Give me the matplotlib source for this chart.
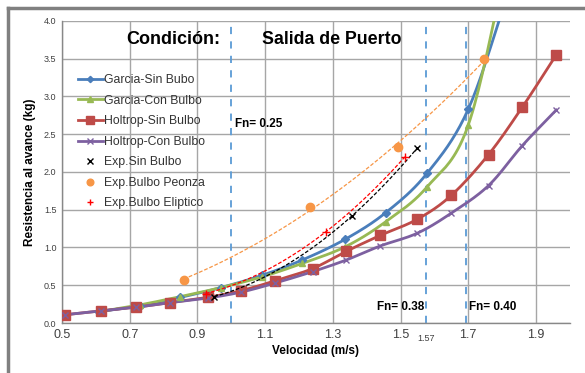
import numpy as np
import matplotlib
matplotlib.use("Agg")
import matplotlib.pyplot as plt
from matplotlib.lines import Line2D

plt.rcParams["font.family"] = ["Liberation Sans", "DejaVu Sans"]

# ==========================================
# DATA
# ==========================================

v_garcia = [0.61, 0.73, 0.85, 0.97, 1.09, 1.21, 1.337, 1.456, 1.578, 1.70, 1.82]
r_garcia_sin = [0.15, 0.23, 0.34, 0.47, 0.63, 0.835, 1.11, 1.46, 1.98, 2.83, 4.4]
r_garcia_con = [0.15, 0.24, 0.35, 0.47, 0.61, 0.79, 1.01, 1.34, 1.80, 2.62, 4.9]

v_holtrop = [0.51, 0.615, 0.72, 0.82, 0.93, 1.03, 1.13, 1.24, 1.34, 1.44,
             1.55, 1.65, 1.76, 1.86, 1.96]
r_holtrop_sin = [0.11, 0.16, 0.21, 0.27, 0.34, 0.43, 0.56, 0.72, 0.95, 1.16,
                 1.375, 1.69, 2.23, 2.86, 3.55]
r_holtrop_con = [0.11, 0.16, 0.21, 0.27, 0.33, 0.41, 0.53, 0.68, 0.835, 1.02,
                 1.19, 1.455, 1.82, 2.35, 2.82]

v_exp_sin = [0.95, 1.357, 1.55]
r_exp_sin = [0.35, 1.42, 2.32]

v_exp_peonza = [0.859, 1.232, 1.494, 1.748]
r_exp_peonza = [0.57, 1.54, 2.33, 3.50]

v_exp_eliptico = [0.924, 1.28, 1.513]
r_exp_eliptico = [0.39, 1.21, 2.20]

fn_speeds = [1.0, 1.575, 1.693]
fn_labels = ["Fn= 0.25", "Fn= 0.38", "Fn= 0.40"]

x_ticks = [0.5, 0.7, 0.9, 1.1, 1.3, 1.5, 1.7, 1.9]
y_ticks = [0.0, 0.5, 1.0, 1.5, 2.0, 2.5, 3.0, 3.5, 4.0]


# ==========================================
# HELPERS
# ==========================================

def smooth(x, y, n=20):
    # Catmull-Rom curve through the points (like Excel's smoothed line)
    pts = np.column_stack([x, y]).astype(float)
    p = np.vstack([2 * pts[0] - pts[1], pts, 2 * pts[-1] - pts[-2]])
    t = np.linspace(0, 1, n, endpoint=False)[:, None]
    out = []
    for i in range(1, len(p) - 2):
        p0, p1, p2, p3 = p[i - 1], p[i], p[i + 1], p[i + 2]
        seg = 0.5 * (2 * p1 + (-p0 + p2) * t
                     + (2 * p0 - 5 * p1 + 4 * p2 - p3) * t ** 2
                     + (-p0 + 3 * p1 - 3 * p2 + p3) * t ** 3)
        out.append(seg)
    out.append(pts[-1:])
    c = np.vstack(out)
    return c[:, 0], c[:, 1]


def trend(x, y):
    # 2nd order polynomial trendline
    coef = np.polyfit(x, y, 2)
    xs = np.linspace(min(x), max(x), 100)
    return xs, np.polyval(coef, xs)


# ==========================================
# FIGURE
# ==========================================

fig = plt.figure(figsize=(5.85, 3.73), dpi=100)
ax = fig.add_axes([0.106, 0.134, 0.868, 0.81])

ax.set_xlim(0.5, 2.0)
ax.set_ylim(0, 4.0)

ax.grid(True, color="#a6a6a6", linewidth=1.0)
ax.set_axisbelow(True)
for s in ["top", "right"]:
    ax.spines[s].set_visible(False)
for s in ["left", "bottom"]:
    ax.spines[s].set_color("#888888")
    ax.spines[s].set_linewidth(1.0)

# Froude number lines
for fx in fn_speeds:
    ax.axvline(fx, color="#5b9bd5", linestyle=(0, (4, 4)), linewidth=1.3, zorder=1)

# calculated curves
series = [
    (v_garcia, r_garcia_sin, "#4a7ebb", "D", 4, "Garcia-Sin Bubo"),
    (v_garcia, r_garcia_con, "#98b954", "^", 5, "Garcia-Con Bulbo"),
    (v_holtrop, r_holtrop_sin, "#be4b48", "s", 7, "Holtrop-Sin Bulbo"),
    (v_holtrop, r_holtrop_con, "#7d60a0", "x", 5, "Holtrop-Con Bulbo"),
]
handles = []
for vx, ry, col, mk, ms, lab in series:
    sx, sy = smooth(vx, ry)
    ax.plot(sx, sy, color=col, linewidth=2.0, zorder=3)
    ax.plot(vx, ry, linestyle="none", marker=mk, markersize=ms, color=col,
            markeredgewidth=1.0, zorder=4)
    handles.append(Line2D([], [], color=col, linewidth=2.0, marker=mk,
                          markersize=ms * 0.8, label=lab))

# experimental points + trendlines
exp_series = [
    (v_exp_sin, r_exp_sin, "black", "x", 5, "Exp.Sin Bulbo"),
    (v_exp_peonza, r_exp_peonza, "#f79646", "o", 6, "Exp.Bulbo Peonza"),
    (v_exp_eliptico, r_exp_eliptico, "#ff0000", "+", 6, "Exp.Bulbo Eliptico"),
]
for vx, ry, col, mk, ms, lab in exp_series:
    tx, ty = trend(vx, ry)
    ax.plot(tx, ty, color=col, linewidth=0.9, linestyle=(0, (3, 1.5)), zorder=5)
    ax.plot(vx, ry, linestyle="none", marker=mk, markersize=ms, color=col,
            markeredgewidth=1.0, zorder=6)
    handles.append(Line2D([], [], linestyle="none", marker=mk, markersize=ms * 0.8,
                          color=col, label=lab))

# ==========================================
# TEXT
# ==========================================

ax.text(0.689, 3.75, "Condición:", fontsize=13, fontweight="bold", va="center")
ax.text(1.09, 3.75, "Salida de Puerto", fontsize=12.8, fontweight="bold", va="center")

ax.text(fn_speeds[0] + 0.01, 2.63, fn_labels[0], fontsize=8.5, fontweight="bold",
        va="center")
ax.text(fn_speeds[1] - 0.005, 0.21, fn_labels[1], fontsize=8.5, fontweight="bold",
        va="center", ha="right")
ax.text(fn_speeds[2] + 0.01, 0.21, fn_labels[2], fontsize=8.5, fontweight="bold",
        va="center")

ax.set_xticks(x_ticks)
ax.set_xticklabels([f"{t:.1f}" for t in x_ticks], fontsize=9, color="#404040")
ax.set_yticks(y_ticks)
ax.set_yticklabels([f"{t:.1f}" for t in y_ticks], fontsize=6.5, color="#404040")
ax.tick_params(length=0, pad=4)
ax.text(1.575, -0.14, "1.57", fontsize=6.5, color="#404040", ha="center",
        va="top", transform=ax.transData)

ax.set_xlabel("Velocidad (m/s)", fontsize=8.5, fontweight="bold", labelpad=3)
ax.set_ylabel("Resistencia al avance (kg)", fontsize=8.5, fontweight="bold",
              labelpad=6)

leg = ax.legend(handles=handles, loc="upper left", bbox_to_anchor=(0.022, 0.84),
                frameon=False, fontsize=8.8, handlelength=2.0, handletextpad=0.1,
                labelspacing=0.7, borderaxespad=0)
for t in leg.get_texts():
    t.set_color("#333333")

# outer frame of the picture
fig.add_artist(Line2D([8 / 585, 8 / 585], [0, 1 - 8 / 373], color="#808080",
                      linewidth=2.5, transform=fig.transFigure))
fig.add_artist(Line2D([8 / 585, 1], [1 - 8 / 373, 1 - 8 / 373], color="#808080",
                      linewidth=2.5, transform=fig.transFigure))

plt.savefig("out.png", dpi=100)
